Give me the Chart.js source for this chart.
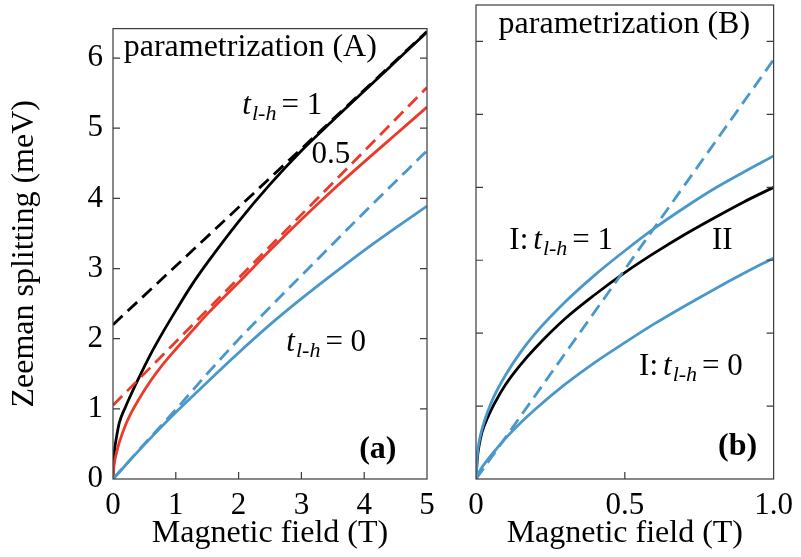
<!DOCTYPE html>
<html>
<head>
<meta charset="utf-8">
<script src="https://cdn.jsdelivr.net/npm/chart.js@4.4.0/dist/chart.umd.min.js"></script>
<style>
    body { margin: 0; background: #fff; }
    #wrap { position: relative; width: 801px; height: 557px; }
    canvas { position: absolute; top: 0; }
    #panel-a { left: 0; }
    #panel-b { left: 450px; }
</style>
</head>
<body>
<div id="wrap">
    <canvas id="panel-a" width="450" height="557"></canvas>
    <canvas id="panel-b" width="351" height="557"></canvas>
</div>
<script>
// ============================================
// Data
// ============================================

// Panel (a): parametrization (A), field 0..5 T
const fieldA = [0, 0.01, 0.03, 0.06, 0.1, 0.2, 0.3, 0.4, 0.6, 0.8, 1.0, 1.25, 1.5, 2.0, 2.5, 3.0, 3.5, 4.0, 4.5, 5.0];
const splitA_t1 = [0, 0.25, 0.45, 0.62, 0.8, 1.03, 1.23, 1.42, 1.78, 2.1, 2.4, 2.76, 3.08, 3.67, 4.2, 4.68, 5.11, 5.53, 5.95, 6.37];
const splitA_t05 = [0, 0.14, 0.27, 0.39, 0.52, 0.77, 0.96, 1.12, 1.4, 1.64, 1.85, 2.1, 2.35, 2.8, 3.26, 3.7, 4.12, 4.52, 4.91, 5.3];
const fieldALin = [0, 0.5, 1, 1.5, 2, 2.5, 3, 3.5, 4, 4.5, 5];
const splitA_t0 = [0, 0.49, 0.95, 1.38, 1.8, 2.2, 2.57, 2.92, 3.26, 3.58, 3.89];
const splitA_t0_dash = [0, 0.5, 0.99, 1.5, 1.99, 2.45, 2.9, 3.35, 3.8, 4.24, 4.68];
const fieldAEnds = [0, 5];
const splitA_t1_dash = [2.2, 6.38];
const splitA_t05_dash = [1.05, 5.58];

// Panel (b): parametrization (B), field 0..1 T
const fieldB = [0, 0.005, 0.01, 0.02, 0.04, 0.06, 0.1, 0.15, 0.2, 0.3, 0.4, 0.5, 0.6, 0.7, 0.8, 0.9, 1.0];
const splitB_I_t1 = [0, 0.35, 0.5, 0.68, 0.93, 1.13, 1.43, 1.74, 2.0, 2.43, 2.8, 3.13, 3.44, 3.72, 3.98, 4.21, 4.43];
const splitB_II = [0, 0.3, 0.45, 0.64, 0.85, 1.02, 1.3, 1.57, 1.8, 2.2, 2.53, 2.83, 3.1, 3.35, 3.58, 3.8, 4.0];
const splitB_I_t0 = [0, 0.05, 0.09, 0.16, 0.27, 0.37, 0.56, 0.77, 0.96, 1.3, 1.6, 1.87, 2.13, 2.37, 2.6, 2.82, 3.03];
const fieldBEnds = [0, 1];
const splitB_dash = [0, 5.75];

// Ticks
const xTicksA = [0, 1, 2, 3, 4, 5];
const yTicksA = [0, 1, 2, 3, 4, 5, 6];
const xTicksB = [0, 0.5, 1];
const xTickLabelsB = ['0', '0.5', '1.0'];
const yTicksB = [0, 1, 2, 3, 4, 5, 6];

// ============================================
// Styles
// ============================================
const BLACK = '#000000';
const RED = '#ea3a29';
const BLUE = '#4a98ca';
const FONT = '"Liberation Serif", "Times New Roman", serif';
const TICK_LEN = 7;

Chart.defaults.font.family = FONT;
Chart.defaults.color = '#000';

// Build {x, y} points from two arrays
function pts(xs, ys) {
    return xs.map((x, i) => ({ x: x, y: ys[i] }));
}

function line(xs, ys, color, dashed) {
    return {
        data: pts(xs, ys),
        borderColor: color,
        borderWidth: 2.8,
        borderDash: dashed ? [13, 7] : [],
        pointRadius: 0,
        cubicInterpolationMode: 'monotone',
        fill: false
    };
}

// Draw a piece of text made of several styled parts (for t_{l-h})
function drawNote(ctx, x, y, parts) {
    let cx = x;
    parts.forEach(p => {
        const size = p.size || 31;
        ctx.font = `${p.style || 'normal'} ${size}px ${FONT}`;
        cx += p.gap || 0;
        ctx.fillText(p.t, cx, y + (p.dy || 0));
        cx += ctx.measureText(p.t).width;
    });
}

// Frame, inward tick marks and in-plot labels
const framePlugin = {
    id: 'frame',
    afterDraw(chart, args, opts) {
        const { ctx, chartArea: a, scales } = chart;
        ctx.save();
        ctx.strokeStyle = '#3a3a3a';
        ctx.lineWidth = 1.2;
        ctx.strokeRect(a.left, a.top, a.right - a.left, a.bottom - a.top);
        ctx.beginPath();
        opts.xMarks.forEach(v => {
            const px = scales.x.getPixelForValue(v);
            ctx.moveTo(px, a.bottom);
            ctx.lineTo(px, a.bottom - TICK_LEN);
        });
        opts.yMarks.forEach(v => {
            const py = scales.y.getPixelForValue(v);
            ctx.moveTo(a.left, py);
            ctx.lineTo(a.left + TICK_LEN, py);
            ctx.moveTo(a.right, py);
            ctx.lineTo(a.right - TICK_LEN, py);
        });
        ctx.stroke();
        ctx.fillStyle = '#000';
        ctx.textBaseline = 'alphabetic';
        ctx.textAlign = 'left';
        opts.notes.forEach(n => {
            drawNote(ctx, scales.x.getPixelForValue(n.x), scales.y.getPixelForValue(n.y), n.parts);
        });
        ctx.restore();
    }
};

const tSub = (rest) => [
    { t: 't', style: 'italic' },
    { t: 'l-h', style: 'italic', size: 22, dy: 6, gap: 1 },
    { t: rest, gap: 5 }
];

// ============================================
// Panel (a)
// ============================================
new Chart(document.getElementById('panel-a'), {
    type: 'line',
    data: {
        datasets: [
            line(fieldALin, splitA_t0, BLUE, false),
            line(fieldALin, splitA_t0_dash, BLUE, true),
            line(fieldA, splitA_t05, RED, false),
            line(fieldAEnds, splitA_t05_dash, RED, true),
            line(fieldA, splitA_t1, BLACK, false),
            line(fieldAEnds, splitA_t1_dash, BLACK, true)
        ]
    },
    options: {
        responsive: false,
        animation: false,
        layout: { padding: { top: 5, right: 23, left: 0, bottom: 0 } },
        plugins: {
            legend: { display: false },
            tooltip: { enabled: false },
            frame: {
                xMarks: [1, 2, 3, 4],
                yMarks: [1, 2, 3, 4, 5, 6],
                notes: [
                    { x: 0.17, y: 6.03, parts: [{ t: 'parametrization (A)', size: 32 }] },
                    { x: 2.06, y: 5.2, parts: tSub('= 1') },
                    { x: 3.16, y: 4.5, parts: [{ t: '0.5' }] },
                    { x: 2.76, y: 1.83, parts: tSub('= 0') },
                    { x: 3.92, y: 0.3, parts: [{ t: '(a)', style: 'bold', size: 32 }] }
                ]
            }
        },
        scales: {
            x: {
                type: 'linear', min: 0, max: 5,
                afterBuildTicks: s => { s.ticks = xTicksA.map(v => ({ value: v })); },
                afterFit: s => { s.height = 78; },
                ticks: { font: { size: 31 }, padding: 8, maxRotation: 0, autoSkip: false },
                grid: { display: false, drawTicks: false },
                border: { display: false },
                title: { display: true, text: 'Magnetic field (T)', font: { size: 32 }, padding: { top: 0, bottom: 4 } }
            },
            y: {
                type: 'linear', min: 0, max: 6.42,
                afterBuildTicks: s => { s.ticks = yTicksA.map(v => ({ value: v })); },
                afterFit: s => { s.width = 113; },
                ticks: { font: { size: 31 }, padding: 10, autoSkip: false },
                grid: { display: false, drawTicks: false },
                border: { display: false },
                title: { display: true, text: 'Zeeman splitting (meV)', font: { size: 32 }, padding: { top: 5, bottom: 0 } }
            }
        }
    },
    plugins: [framePlugin]
});

// ============================================
// Panel (b)
// ============================================
new Chart(document.getElementById('panel-b'), {
    type: 'line',
    data: {
        datasets: [
            line(fieldB, splitB_I_t0, BLUE, false),
            line(fieldBEnds, splitB_dash, BLUE, true),
            line(fieldB, splitB_I_t1, BLUE, false),
            line(fieldB, splitB_II, BLACK, false)
        ]
    },
    options: {
        responsive: false,
        animation: false,
        layout: { padding: { top: 5, right: 22, left: 0, bottom: 0 } },
        plugins: {
            legend: { display: false },
            tooltip: { enabled: false },
            frame: {
                xMarks: [0.5],
                yMarks: [1, 2, 3, 4, 5, 6],
                notes: [
                    { x: 0.076, y: 6.11, parts: [{ t: 'parametrization (B)', size: 32 }] },
                    { x: 0.112, y: 3.16, parts: [{ t: 'I:' }].concat(tSub('= 1').map((p, i) => i === 0 ? Object.assign({}, p, { gap: 5 }) : p)) },
                    { x: 0.793, y: 3.16, parts: [{ t: 'II' }] },
                    { x: 0.548, y: 1.42, parts: [{ t: 'I:' }].concat(tSub('= 0').map((p, i) => i === 0 ? Object.assign({}, p, { gap: 5 }) : p)) },
                    { x: 0.813, y: 0.33, parts: [{ t: '(b)', style: 'bold', size: 32 }] }
                ]
            }
        },
        scales: {
            x: {
                type: 'linear', min: 0, max: 1,
                afterBuildTicks: s => { s.ticks = xTicksB.map(v => ({ value: v })); },
                afterFit: s => { s.height = 78; },
                ticks: { font: { size: 31 }, padding: 8, maxRotation: 0, autoSkip: false,
                         callback: (v, i) => xTickLabelsB[i] },
                grid: { display: false, drawTicks: false },
                border: { display: false },
                title: { display: true, text: 'Magnetic field (T)', font: { size: 32 }, padding: { top: 0, bottom: 4 } }
            },
            y: {
                type: 'linear', min: 0, max: 6.5,
                afterBuildTicks: s => { s.ticks = yTicksB.map(v => ({ value: v })); },
                afterFit: s => { s.width = 26; },
                ticks: { display: false },
                grid: { display: false, drawTicks: false },
                border: { display: false }
            }
        }
    },
    plugins: [framePlugin]
});
</script>
</body>
</html>
